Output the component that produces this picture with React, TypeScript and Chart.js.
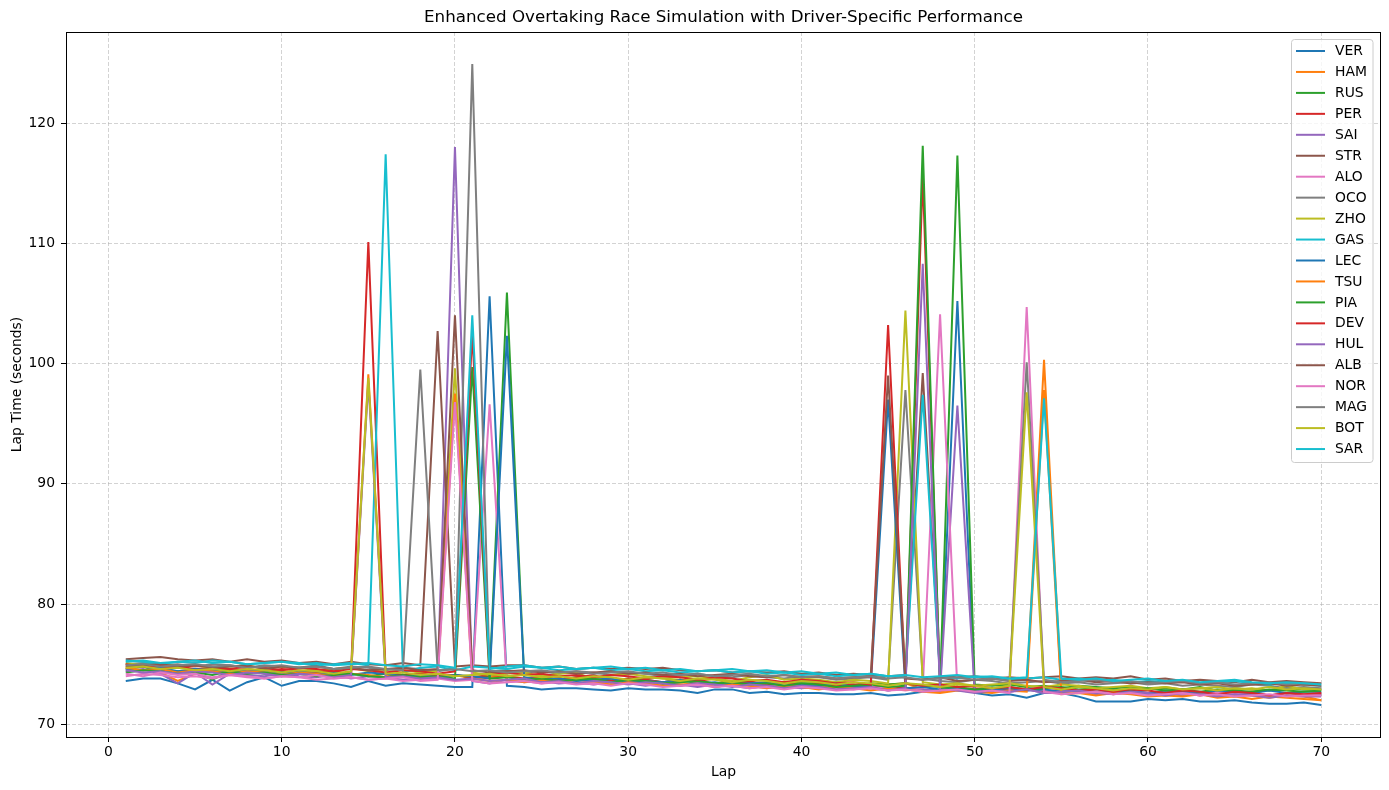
import React, { useEffect, useRef } from "react";
import { Chart, registerables } from "chart.js";

Chart.register(...registerables);

const laps = Array.from({ length: 70 }, (_, i) => i + 1);
const xTicks = [0, 10, 20, 30, 40, 50, 60, 70];
const yTicks = [70, 80, 90, 100, 110, 120];

const drivers = ["VER", "HAM", "RUS", "PER", "SAI", "STR", "ALO", "OCO", "ZHO", "GAS", "LEC", "TSU", "PIA", "DEV", "HUL", "ALB", "NOR", "MAG", "BOT", "SAR"];
const colors = ["#1f77b4", "#ff7f0e", "#2ca02c", "#d62728", "#9467bd", "#8c564b", "#e377c2", "#7f7f7f", "#bcbd22", "#17becf"];

const VER = [73.6,73.8,73.8,73.4,72.9,73.7,72.8,73.5,73.9,73.2, 73.6,73.6,73.4,73.1,73.6,73.2,73.4,73.3,73.2,73.1, 73.1,105.6,73.2,73.1,72.9,73.0,73.0,72.9,72.8,73.0, 72.9,72.9,72.8,72.6,72.9,72.9,72.6,72.7,72.5,72.6, 72.6,72.5,72.5,72.6,72.4,72.5,72.7,72.7,105.2,72.6, 72.4,72.5,72.2,72.6,72.6,72.3,71.9,71.9,71.9,72.1, 72.0,72.1,71.9,71.9,72.0,71.8,71.7,71.7,71.8,71.6];
const HAM = [75.0,74.8,74.3,73.6,74.2,74.4,74.6,74.3,74.5,74.4, 74.3,74.5,74.2,74.0,99.1,74.1,74.0,74.3,73.9,74.1, 73.8,73.9,74.0,73.7,73.6,73.9,73.4,73.6,73.7,73.5, 73.6,73.4,73.5,73.7,73.3,73.4,73.6,73.2,73.4,73.3, 73.1,73.3,73.2,73.0,73.3,73.4,72.9,72.7,73.0,72.9, 72.8,72.9,73.0,100.3,72.6,72.8,72.7,72.5,72.7,72.6, 72.4,72.6,72.5,72.3,72.5,72.4,72.2,72.4,72.3,72.0];
const RUS = [74.6,74.8,74.5,74.4,74.3,73.7,74.4,74.5,74.2,74.3, 74.4,74.1,74.3,74.2,74.0,74.2,74.1,73.9,74.0,74.1, 73.9,74.0,105.9,73.8,74.0,73.7,73.9,73.8,73.6,73.8, 73.7,73.5,73.7,73.6,73.4,73.6,73.5,73.3,73.5,73.4, 73.4,73.5,73.2,73.4,73.3,73.4,73.2,73.1,117.3,73.3, 73.2,73.3,73.1,73.2,73.0,73.2,73.1,73.0,73.1,72.9, 73.0,72.9,73.1,72.8,73.0,72.9,72.8,73.0,72.9,72.9];
const PER = [74.8,74.9,74.7,74.8,74.6,74.7,74.5,74.6,74.4,74.6, 74.5,74.3,74.4,74.2,110.1,74.3,74.1,74.2,74.0,74.1, 73.9,74.1,74.0,73.8,73.9,73.7,73.9,74.1,73.6,73.8, 73.7,73.5,73.7,73.6,73.8,73.4,73.5,73.3,73.5,73.3, 73.4,73.2,73.3,73.1,73.2,73.0,115.6,73.1,72.9,73.0, 72.8,73.0,72.9,72.7,72.9,72.8,72.6,72.8,72.7,72.5, 72.7,72.6,72.4,72.6,72.5,72.7,72.4,72.6,72.5,72.5];
const SAI = [74.4,74.6,74.2,73.4,74.3,73.3,74.2,74.1,74.0,74.2, 74.0,73.9,74.1,73.8,74.0,73.9,73.7,73.8,73.9,118.0, 73.6,73.4,73.7,73.5,73.6,73.4,73.5,73.3,73.5,73.4, 73.2,73.4,73.3,73.1,73.3,73.2,73.0,73.2,73.1,73.0, 73.1,72.9,73.1,73.0,72.8,73.0,72.9,72.8,96.5,72.7, 72.8,72.7,72.9,72.6,72.8,72.7,72.5,72.7,72.6,72.5, 72.6,72.4,72.6,72.5,72.3,72.5,72.4,72.3,72.5,72.4];
const STR = [75.4,75.5,75.6,75.4,75.3,75.4,75.2,75.4,75.2,75.3, 75.1,75.2,75.0,75.2,75.0,74.9,75.1,74.9,102.7,74.8, 74.9,74.8,74.9,74.9,74.7,74.8,74.6,74.7,74.6,74.7, 74.6,74.7,74.5,74.4,74.5,74.3,74.4,74.3,74.4,74.2, 74.3,74.1,74.2,74.1,74.0,74.1,99.2,74.0,73.9,74.0, 73.8,73.9,73.8,73.9,74.0,73.8,73.9,73.8,74.0,73.7, 73.8,73.6,73.7,73.6,73.5,73.7,73.5,73.6,73.5,73.4];
const ALO = [74.0,74.2,74.1,73.9,74.0,73.8,74.1,73.9,73.8,74.0, 73.9,73.7,73.8,73.9,73.7,73.8,73.6,73.7,73.8,73.6, 73.7,96.6,73.5,73.6,73.4,73.6,73.5,73.3,73.5,73.4, 73.3,73.4,73.2,73.3,73.1,73.3,73.2,73.0,73.2,73.1, 73.0,73.1,72.9,73.1,73.0,72.8,73.0,104.1,72.9,72.8, 72.9,72.7,72.8,72.9,72.7,72.8,72.6,72.7,72.8,72.6, 72.7,72.5,72.6,72.7,72.5,72.6,72.4,72.6,72.5,72.6];
const OCO = [75.0,75.1,74.9,75.0,74.8,75.0,74.9,74.7,74.9,74.8, 74.7,74.9,74.6,74.8,74.7,74.5,74.7,74.6,74.4,74.6, 124.9,74.4,74.5,74.3,74.4,74.2,74.4,74.3,74.1,74.3, 74.2,74.0,74.1,74.2,74.0,73.9,74.1,73.9,73.8,74.0, 73.9,73.7,73.8,73.9,73.7,97.8,73.8,73.6,73.5,73.7, 73.6,73.4,73.5,73.6,73.4,73.5,73.3,73.4,73.5,73.3, 73.4,73.2,73.3,73.2,73.1,73.3,73.2,73.0,73.1,73.0];
const ZHO = [75.1,74.9,75.0,74.8,74.9,74.7,74.8,74.9,74.6,74.8, 74.7,74.5,74.6,74.7,74.4,74.6,74.5,74.3,74.4,99.6, 74.3,74.1,74.2,74.3,74.0,74.2,74.3,73.7,74.1,74.2, 74.0,73.8,73.9,74.0,73.8,73.6,73.9,74.1,73.7,73.8, 73.7,73.5,73.7,73.6,73.4,104.4,73.5,73.3,73.4,73.2, 73.3,73.4,73.2,73.1,73.3,73.2,73.0,73.1,73.2,73.0, 73.1,72.9,73.0,73.1,72.9,73.0,72.8,73.2,72.9,72.8];
const GAS = [75.3,75.2,75.0,75.2,75.1,75.3,75.2,75.0,75.1,75.2, 75.1,74.9,75.0,75.1,74.9,117.4,74.3,74.7,74.8,74.5, 74.8,74.7,74.6,74.8,74.7,74.5,74.6,74.7,74.5,74.6, 74.4,74.5,74.3,74.4,74.5,74.3,74.4,74.2,74.3,74.1, 74.2,74.0,74.1,74.2,74.0,73.9,97.4,73.9,73.8,74.0, 73.9,73.7,73.8,73.9,73.7,73.8,73.6,73.7,73.5,73.6, 73.5,73.6,73.4,73.5,73.6,73.4,73.3,73.4,73.3,73.2];
const LEC = [74.6,74.5,74.7,74.4,74.6,74.5,74.3,74.5,74.4,74.3, 74.4,74.2,74.3,74.1,74.3,74.2,74.0,74.1,73.9,74.1, 74.0,73.8,102.3,73.9,73.7,73.8,73.6,73.7,73.8,73.5, 73.6,73.5,73.7,73.4,73.5,73.3,73.4,73.5,73.2,73.3, 73.2,73.4,73.1,73.2,97.0,73.0,73.1,72.9,73.0,72.8, 72.9,73.0,72.8,72.9,72.7,72.8,72.9,72.7,72.8,72.6, 72.8,72.7,72.6,72.8,72.7,72.6,72.8,72.6,72.7,72.7];
const TSU = [74.7,74.5,74.6,74.3,74.5,74.4,74.2,74.4,74.3,74.1, 74.3,74.2,74.0,74.2,74.1,73.9,74.0,73.8,74.0,97.5, 73.8,73.6,73.7,73.5,73.7,73.6,73.4,73.5,73.3,73.5, 73.4,73.2,73.3,73.4,73.1,73.3,73.2,73.0,73.2,73.1, 72.9,73.1,73.0,72.8,73.0,72.9,72.7,72.6,72.8,72.7, 72.6,72.8,72.7,97.8,72.5,72.6,72.4,72.6,72.5,72.3, 72.4,72.3,72.5,72.2,72.3,72.1,72.3,72.2,72.1,72.0];
const PIA = [74.3,74.5,74.4,74.2,74.3,74.1,74.4,74.2,74.3,74.1, 74.2,74.0,74.1,74.2,74.0,73.9,74.1,73.9,74.0,73.8, 99.7,73.8,73.9,73.7,73.8,73.6,73.7,73.8,73.5,73.7, 73.6,73.4,73.5,73.6,73.4,73.5,73.3,73.4,73.2,73.4, 73.3,73.1,73.2,73.3,73.1,73.2,118.1,73.0,73.1,72.9, 73.0,73.1,72.9,73.0,73.1,72.9,73.0,72.8,72.9,73.0, 72.8,72.9,72.7,72.9,72.8,72.7,72.9,72.8,72.7,72.8];
const DEV = [75.0,74.8,74.9,74.7,74.9,74.8,74.6,74.8,74.7,74.5, 74.7,74.6,74.4,74.6,74.5,74.3,74.5,74.4,74.2,74.4, 102.5,74.2,74.3,74.1,74.2,74.0,74.1,73.9,74.1,74.0, 73.8,74.0,73.9,73.7,73.9,73.8,73.6,73.7,73.5,73.7, 73.6,73.4,73.5,73.3,103.2,73.4,73.2,73.3,73.1,73.2, 73.0,73.1,72.9,73.1,73.0,72.8,72.9,72.7,72.9,72.8, 72.6,72.8,72.7,72.5,72.7,72.6,72.4,72.6,72.5,72.6];
const HUL = [74.5,74.3,74.4,74.2,74.4,74.3,74.1,74.3,74.2,74.0, 74.2,74.1,73.9,74.1,98.4,73.9,74.0,73.8,73.9,73.7, 73.8,73.6,73.7,73.8,73.5,73.6,73.4,73.6,73.5,73.3, 73.5,73.4,73.2,73.4,73.3,73.1,73.3,73.2,73.0,73.2, 73.1,72.9,73.0,73.1,72.8,73.0,108.3,72.9,72.8,72.6, 72.8,72.7,72.9,72.6,72.7,72.8,72.6,72.5,72.7,72.6, 72.4,72.6,72.5,72.3,72.5,72.4,72.2,72.4,72.3,72.3];
const ALB = [74.8,74.9,75.0,74.8,74.9,74.7,74.8,74.9,74.6,74.8, 74.7,74.8,74.6,74.7,74.5,74.6,74.7,74.5,74.6,104.0, 74.5,74.3,74.4,74.5,74.3,74.4,74.2,74.3,74.4,74.2, 74.3,74.1,74.2,74.0,74.1,74.2,74.0,73.9,74.1,73.9, 74.0,73.8,73.9,74.0,99.0,73.8,73.7,73.9,73.6,73.7, 73.8,73.6,73.7,73.5,73.6,73.7,73.5,73.6,73.4,73.5, 73.4,73.5,73.3,73.4,73.2,73.3,73.4,73.2,73.3,73.2];
const NOR = [74.2,74.0,74.3,74.1,74.2,73.9,74.1,74.0,73.8,74.0, 73.9,74.1,73.8,73.9,73.7,73.8,73.9,73.6,73.7,96.8, 73.6,73.4,73.5,73.6,73.4,73.5,73.3,73.4,73.2,73.4, 73.3,73.1,73.2,73.3,73.1,73.2,73.0,73.1,72.9,73.1, 73.0,72.8,72.9,73.0,72.8,72.9,72.7,72.8,72.9,72.7, 72.8,72.6,104.7,72.7,72.5,72.6,72.7,72.5,72.6,72.4, 72.5,72.6,72.4,72.5,72.3,72.4,72.5,72.3,72.4,72.4];
const MAG = [74.9,75.0,74.8,74.9,75.0,74.8,74.9,74.7,74.8,74.9, 74.7,74.8,74.6,74.7,74.8,74.6,74.5,99.5,74.5,74.6, 74.4,74.5,74.3,74.4,74.5,74.3,74.4,74.2,74.3,74.4, 74.2,74.3,74.1,74.2,74.0,74.1,74.2,74.0,74.1,73.9, 74.0,73.8,73.9,74.0,73.8,73.9,73.7,73.8,73.9,73.7, 73.8,73.6,100.1,73.7,73.5,73.6,73.7,73.5,73.6,73.4, 73.5,73.6,73.4,73.5,73.3,73.4,73.5,73.3,73.4,73.3];
const BOT = [74.7,74.8,74.6,74.7,74.5,74.6,74.4,74.6,74.5,74.3, 74.5,74.4,74.2,74.4,98.8,74.2,74.3,74.1,74.2,74.0, 74.1,74.2,74.0,74.1,73.9,74.0,73.8,74.0,73.9,73.7, 73.9,73.8,73.6,73.8,73.7,73.5,73.7,73.6,73.4,73.6, 73.5,73.3,73.5,73.4,73.2,73.4,73.3,73.1,73.3,73.2, 73.0,73.2,97.6,73.1,72.9,73.1,73.0,72.8,73.0,72.9, 73.1,72.9,73.0,72.8,73.0,72.9,73.1,72.9,73.0,72.9];
const SAR = [75.2,75.3,75.1,75.2,75.3,75.1,75.2,75.0,75.1,75.2, 75.0,75.1,74.9,75.0,75.1,74.9,74.8,75.0,74.9,74.7, 104.0,74.6,74.8,74.9,74.7,74.8,74.6,74.7,74.8,74.6, 74.7,74.5,74.6,74.4,74.5,74.6,74.4,74.5,74.3,74.4, 74.2,74.3,74.1,74.2,74.0,74.1,73.9,74.0,74.1,73.9, 74.0,73.8,73.9,97.1,73.8,73.7,73.8,73.6,73.7,73.8, 73.6,73.7,73.5,73.6,73.7,73.5,73.4,73.5,73.4,73.3];

const series = [VER, HAM, RUS, PER, SAI, STR, ALO, OCO, ZHO, GAS, LEC, TSU, PIA, DEV, HUL, ALB, NOR, MAG, BOT, SAR];

const FONT = "'DejaVu Sans', sans-serif";

const overlay = {
  id: "overlay",
  afterDraw(chart: any) {
    const { ctx, chartArea } = chart;
    const { left, right, top, bottom } = chartArea;
    ctx.save();
    ctx.setLineDash([]);
    // frame
    ctx.strokeStyle = "#000";
    ctx.lineWidth = 1;
    ctx.strokeRect(Math.round(left) + 0.5, Math.round(top) + 0.5, Math.round(right - left) - 1, Math.round(bottom - top));
    // title
    ctx.fillStyle = "#000";
    ctx.textAlign = "center";
    ctx.textBaseline = "middle";
    ctx.font = `16.7px ${FONT}`;
    ctx.fillText("Enhanced Overtaking Race Simulation with Driver-Specific Performance", (left + right) / 2, 18);
    ctx.font = `13.9px ${FONT}`;
    ctx.fillText("Lap", (left + right) / 2, 772);
    ctx.save();
    ctx.translate(17, (top + bottom) / 2);
    ctx.rotate(-Math.PI / 2);
    ctx.fillText("Lap Time (seconds)", 0, 0);
    ctx.restore();
    // legend
    const lx = 1291.5, ly = 39.5, lw = 81.5, lh = 423, r = 3;
    ctx.beginPath();
    ctx.moveTo(lx + r, ly);
    ctx.lineTo(lx + lw - r, ly);
    ctx.quadraticCurveTo(lx + lw, ly, lx + lw, ly + r);
    ctx.lineTo(lx + lw, ly + lh - r);
    ctx.quadraticCurveTo(lx + lw, ly + lh, lx + lw - r, ly + lh);
    ctx.lineTo(lx + r, ly + lh);
    ctx.quadraticCurveTo(lx, ly + lh, lx, ly + lh - r);
    ctx.lineTo(lx, ly + r);
    ctx.quadraticCurveTo(lx, ly, lx + r, ly);
    ctx.closePath();
    ctx.fillStyle = "rgba(255,255,255,0.8)";
    ctx.fill();
    ctx.strokeStyle = "#cccccc";
    ctx.lineWidth = 1;
    ctx.stroke();
    ctx.textAlign = "left";
    chart.data.datasets.forEach((ds: any, i: number) => {
      const y = 51 + i * 20.95;
      ctx.strokeStyle = ds.borderColor;
      ctx.lineWidth = 2;
      ctx.beginPath();
      ctx.moveTo(1296, y);
      ctx.lineTo(1325, y);
      ctx.stroke();
      ctx.fillStyle = "#000";
      ctx.fillText(ds.label, 1335, y + 0.5);
    });
    ctx.restore();
  },
};

export default function App() {
  const ref = useRef<HTMLCanvasElement>(null);
  useEffect(() => {
    if (!ref.current) return;
    const datasets = series.map((vals, i) => ({
      label: drivers[i],
      data: laps.map((lap, j) => ({ x: lap, y: vals[j] })),
      borderColor: colors[i % 10],
      backgroundColor: colors[i % 10],
      borderWidth: 2,
      pointRadius: 0,
      tension: 0,
      fill: false,
      order: series.length - 1 - i,
    }));
    const chart = new Chart(ref.current, {
      type: "line",
      data: { datasets },
      options: {
        responsive: false,
        animation: false,
        maintainAspectRatio: false,
        layout: { padding: { left: 0, right: 8, top: 32, bottom: 0 } },
        plugins: { legend: { display: false }, title: { display: false }, tooltip: { enabled: false } },
        scales: {
          x: {
            type: "linear",
            min: -2.45,
            max: 73.45,
            afterBuildTicks: (s: any) => { s.ticks = xTicks.map((v) => ({ value: v })); },
            afterFit: (s: any) => { s.height = 53; },
            border: { display: false, dash: [4, 2] },
            grid: { color: "rgba(176,176,176,0.7)", lineWidth: 0.8, tickColor: "#000", tickLength: 5, tickWidth: 1, tickBorderDash: [] },
            ticks: { color: "#000", font: { family: FONT, size: 13.9 }, padding: 2, maxRotation: 0, autoSkip: false },
          },
          y: {
            type: "linear",
            min: 68.94,
            max: 127.57,
            afterBuildTicks: (s: any) => { s.ticks = yTicks.map((v) => ({ value: v })); },
            afterFit: (s: any) => { s.width = 66; },
            border: { display: false, dash: [4, 2] },
            grid: { color: "rgba(176,176,176,0.7)", lineWidth: 0.8, tickColor: "#000", tickLength: 5, tickWidth: 1, tickBorderDash: [] },
            ticks: { color: "#000", font: { family: FONT, size: 13.9 }, padding: 6, autoSkip: false },
          },
        },
      },
      plugins: [overlay],
    });
    return () => chart.destroy();
  }, []);
  return (
    <div style={{ position: "absolute", left: 0, top: 0, width: 1389, height: 790, background: "#fff" }}>
      <canvas ref={ref} width={1389} height={790} style={{ display: "block" }} />
    </div>
  );
}
